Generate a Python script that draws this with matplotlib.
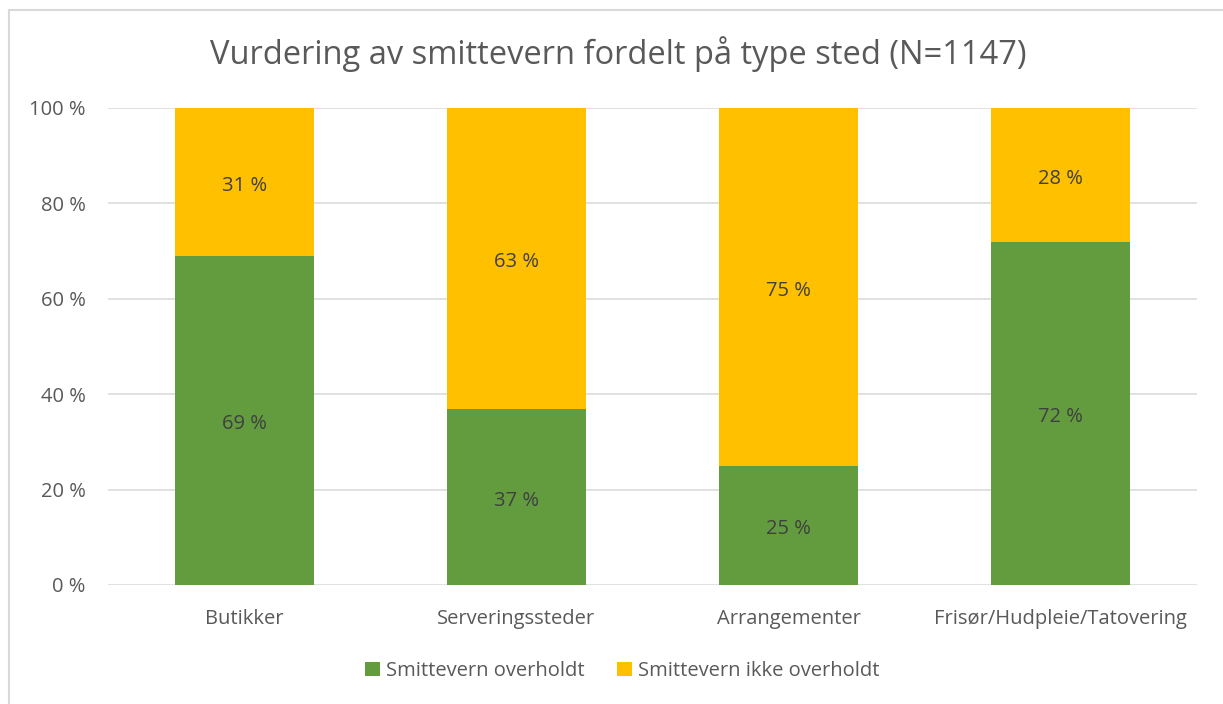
import numpy as np
import matplotlib.pyplot as plt
from matplotlib.patches import Rectangle

plt.rcParams['font.family'] = ['Open Sans', 'DejaVu Sans']

# data
categories = ["Butikker", "Serveringssteder", "Arrangementer", "Frisør/Hudpleie/Tatovering"]
overholdt = [69, 37, 25, 72]
ikke_overholdt = [31, 63, 75, 28]
series_names = ["Smittevern overholdt", "Smittevern ikke overholdt"]

green = "#629C3F"
yellow = "#FFC000"
txt = "#595959"

fig = plt.figure(figsize=(12.23, 7.04), dpi=100)
ax = fig.add_axes([108 / 1223, 1 - 585 / 704, (1197 - 108) / 1223, (585 - 108) / 704])

# chart area border (cropped at right/bottom in the reference)
fig.patches.append(Rectangle((9 / 1223, -0.1), 1.2, 1 - 10 / 704 + 0.1, transform=fig.transFigure,
                             fill=False, edgecolor="#D9D9D9", linewidth=1.5))

x = np.arange(len(categories))
w = 0.51
b1 = ax.bar(x, overholdt, w, color=green, label=series_names[0], zorder=3)
b2 = ax.bar(x, ikke_overholdt, w, bottom=overholdt, color=yellow, label=series_names[1], zorder=3)

for bars, vals, base in [(b1, overholdt, [0] * 4), (b2, ikke_overholdt, overholdt)]:
    for r, v, b in zip(bars, vals, base):
        ax.text(r.get_x() + r.get_width() / 2, b + v / 2 - 0.8, f"{v} %", ha="center", va="center",
                fontsize=14.5, color="#404040")

ax.set_xlim(-0.5, len(categories) - 0.5)
ax.set_ylim(0, 100)
ax.set_yticks(range(0, 101, 20))
ax.set_yticklabels([f"{t} %" for t in range(0, 101, 20)])
ax.set_xticks(x)
ax.set_xticklabels(categories)
ax.tick_params(axis="both", length=0, labelsize=14.5, colors=txt)
ax.tick_params(axis="y", pad=16)
ax.tick_params(axis="x", pad=17)
ax.grid(axis="y", color="#DCDCDC", linewidth=1.2, zorder=0)
for s in ax.spines.values():
    s.set_visible(False)

fig.text(618 / 1223, 1 - 54 / 704, "Vurdering av smittevern fordelt på type sted (N=1147)",
         ha="center", va="center", fontsize=23.5, color=txt)

fig.legend(handles=[b1, b2], labels=series_names, loc="center", bbox_to_anchor=(622 / 1223, 1 - 671 / 704),
           ncol=2, frameon=False, fontsize=14.5, handlelength=0.75, handleheight=0.75,
           handletextpad=0.3, columnspacing=1.6, labelcolor=txt)

fig.savefig("out.png", dpi=100)
